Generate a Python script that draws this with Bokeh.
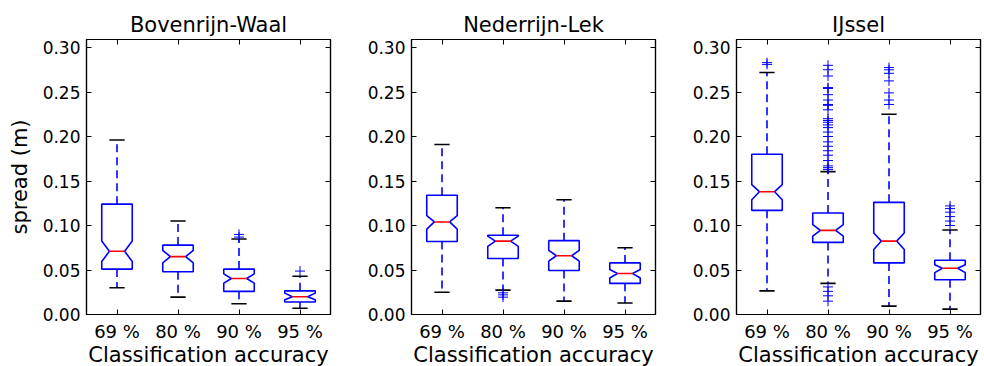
from bokeh.plotting import figure
from bokeh.layouts import row
from bokeh.models import Range1d, FixedTicker, LinearAxis, NumeralTickFormatter
from bokeh.embed import file_html
from bokeh.resources import INLINE

categories = ["69 %", "80 %", "90 %", "95 %"]
panel_titles = ["Bovenrijn-Waal", "Nederrijn-Lek", "IJssel"]
y_ticks = [0.0, 0.05, 0.10, 0.15, 0.20, 0.25, 0.30]

# Bovenrijn-Waal
bw_q1 = [0.051, 0.048, 0.026, 0.014]
bw_med = [0.071, 0.065, 0.0405, 0.020]
bw_q3 = [0.124, 0.078, 0.051, 0.0266]
bw_notch_lo = [0.0596, 0.058, 0.0352, 0.0165]
bw_notch_hi = [0.0825, 0.072, 0.0457, 0.024]
bw_low = [0.030, 0.0195, 0.012, 0.0071]
bw_high = [0.196, 0.105, 0.0848, 0.043]
bw_out_cat = ["90 %", "90 %", "95 %"]
bw_out_val = [0.090, 0.087, 0.0488]

# Nederrijn-Lek
nl_q1 = [0.082, 0.063, 0.0495, 0.035]
nl_med = [0.104, 0.0825, 0.066, 0.046]
nl_q3 = [0.134, 0.089, 0.083, 0.058]
nl_notch_lo = [0.096, 0.0765, 0.060, 0.041]
nl_notch_hi = [0.111, 0.088, 0.072, 0.0506]
nl_low = [0.025, 0.0274, 0.015, 0.013]
nl_high = [0.191, 0.120, 0.129, 0.075]
nl_out_cat = ["80 %", "80 %", "80 %"]
nl_out_val = [0.0244, 0.0221, 0.0195]

# IJssel
ij_q1 = [0.117, 0.081, 0.058, 0.039]
ij_med = [0.138, 0.0945, 0.0825, 0.052]
ij_q3 = [0.180, 0.114, 0.126, 0.061]
ij_notch_lo = [0.129, 0.088, 0.073, 0.047]
ij_notch_hi = [0.146, 0.101, 0.0915, 0.056]
ij_low = [0.0266, 0.035, 0.0094, 0.006]
ij_high = [0.272, 0.1605, 0.225, 0.095]
ij_out_val = [0.283, 0.281,
              0.280, 0.275, 0.268, 0.255, 0.254, 0.247, 0.241, 0.236, 0.235, 0.230,
              0.220, 0.218, 0.216, 0.213, 0.210, 0.205, 0.200, 0.194, 0.189, 0.184,
              0.179, 0.173, 0.167, 0.165, 0.163,
              0.031, 0.026, 0.021, 0.015,
              0.2775, 0.275, 0.271, 0.2625, 0.249, 0.241, 0.236,
              0.122, 0.119, 0.115, 0.110, 0.105, 0.100]
ij_out_cat = ["69 %"] * 2 + ["80 %"] * 29 + ["90 %"] * 7 + ["95 %"] * 6

FONT = "DejaVu Sans"


def make_panel(title, q1, med, q3, nlo, nhi, low, high, out_cat, out_val,
               ylabel, border_left, border_right):
    p = figure(frame_width=244, frame_height=275,
               x_range=Range1d(0.5, 4.5), y_range=Range1d(0, 0.309),
               output_backend="svg", toolbar_location=None,
               min_border_left=border_left, min_border_right=border_right,
               min_border_top=39, min_border_bottom=52,
               title=title, background_fill_color="white",
               border_fill_color="white")
    p.title.text_font = FONT
    p.title.text_font_size = "21px"
    p.title.text_font_style = "normal"
    p.title.align = "center"
    p.title.text_color = "black"
    p.title.standoff = 6
    p.xgrid.visible = False
    p.ygrid.visible = False
    p.outline_line_color = "black"
    p.outline_line_width = 1.2

    pos = [i + 1 for i in range(len(categories))]
    hw, inner, capw = 0.25, 0.125, 0.125
    xs, ys = [], []
    for x, a, m, b, lo, hi in zip(pos, q1, med, q3, nlo, nhi):
        xs.append([x - hw, x + hw, x + hw, x + inner, x + hw, x + hw,
                   x - hw, x - hw, x - inner, x - hw])
        ys.append([a, a, lo, m, hi, b, b, hi, m, lo])
    # whiskers
    p.segment(x0=pos, y0=q3, x1=pos, y1=high, line_color="blue",
              line_width=1.6, line_dash="8 5")
    p.segment(x0=pos, y0=q1, x1=pos, y1=low, line_color="blue",
              line_width=1.6, line_dash="8 5")
    # caps
    p.segment(x0=[x - capw for x in pos], y0=high, x1=[x + capw for x in pos],
              y1=high, line_color="black", line_width=1.6)
    p.segment(x0=[x - capw for x in pos], y0=low, x1=[x + capw for x in pos],
              y1=low, line_color="black", line_width=1.6)
    # boxes
    p.patches(xs, ys, fill_color="white", line_color="blue", line_width=1.6)
    # medians
    p.segment(x0=[x - inner for x in pos], y0=med, x1=[x + inner for x in pos],
              y1=med, line_color="red", line_width=1.6)
    # fliers
    ox = [categories.index(c) + 1 for c in out_cat]
    p.scatter(ox, out_val, marker="cross", size=10, line_color="blue",
              line_width=1)

    xt = FixedTicker(ticks=pos)
    yt = FixedTicker(ticks=y_ticks)
    xax = p.xaxis[0]
    xax.ticker = xt
    xax.major_label_overrides = {x: c for x, c in zip(pos, categories)}
    xax.axis_label = "Classification accuracy"
    yax = p.yaxis[0]
    yax.ticker = yt
    yax.formatter = NumeralTickFormatter(format="0.00")
    if ylabel:
        yax.axis_label = ylabel
    for ax in (xax, yax):
        ax.major_tick_in = 5
        ax.major_tick_out = 0
        ax.minor_tick_line_color = None
        ax.axis_line_color = "black"
        ax.axis_line_width = 1.2
        ax.major_tick_line_color = "black"
        ax.major_label_text_font = FONT
        ax.major_label_text_font_size = "17px"
        ax.major_label_text_color = "black"
        ax.axis_label_text_font = FONT
        ax.axis_label_text_font_size = "21px"
        ax.axis_label_text_font_style = "normal"
        ax.axis_label_text_color = "black"
    xax.major_label_text_font_size = "18px"
    xax.major_label_standoff = 6
    xax.axis_label_standoff = -2
    yax.major_label_standoff = 6
    yax.axis_label_standoff = 8

    top = LinearAxis(ticker=FixedTicker(ticks=pos))
    right = LinearAxis(ticker=FixedTicker(ticks=y_ticks))
    for ax in (top, right):
        ax.major_tick_in = 5
        ax.major_tick_out = 0
        ax.minor_tick_line_color = None
        ax.major_label_text_font_size = "0px"
        ax.major_label_text_color = None
        ax.major_label_standoff = 0
        ax.axis_line_color = "black"
        ax.axis_line_width = 1.2
    p.add_layout(top, "above")
    p.add_layout(right, "right")
    return p


p1 = make_panel(panel_titles[0], bw_q1, bw_med, bw_q3, bw_notch_lo, bw_notch_hi,
                bw_low, bw_high, bw_out_cat, bw_out_val, "spread (m)", 86, 6)
p2 = make_panel(panel_titles[1], nl_q1, nl_med, nl_q3, nl_notch_lo, nl_notch_hi,
                nl_low, nl_high, nl_out_cat, nl_out_val, None, 75, 6)
p3 = make_panel(panel_titles[2], ij_q1, ij_med, ij_q3, ij_notch_lo, ij_notch_hi,
                ij_low, ij_high, ij_out_cat, ij_out_val, None, 75, 2)

layout = row(p1, p2, p3, spacing=0)
open("out.html", "w").write(file_html(layout, INLINE))
